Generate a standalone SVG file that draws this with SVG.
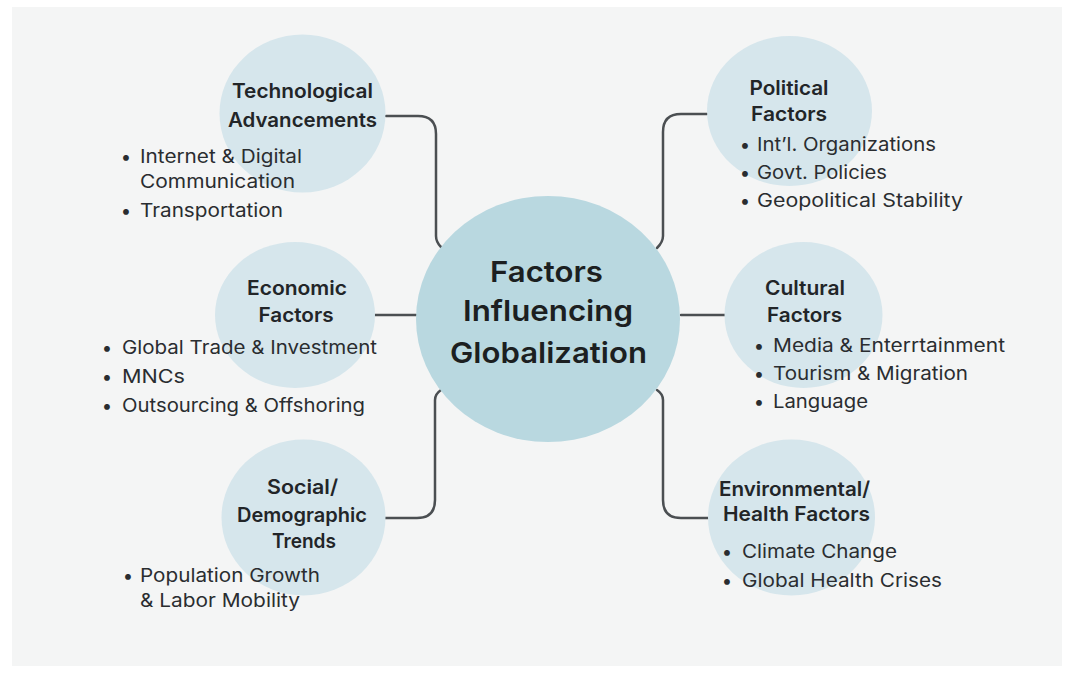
<svg xmlns="http://www.w3.org/2000/svg" width="1073" height="677" viewBox="0 0 1073 677">
<style>
.bg{fill:#f4f5f5}
.node{fill:#d6e6ec}
.hub{fill:#b9d8e0}
.conn{fill:none;stroke:#4b4f52;stroke-width:2.5;stroke-linecap:round}
text{font-family:Inter,"Liberation Sans",sans-serif;fill:#222528}
.t{font-size:20px;font-weight:600;text-anchor:middle}
.c{font-size:29px;font-weight:600;text-anchor:middle;fill:#1c1f21}
.b{font-size:18.5px;font-weight:400;fill:#2a2d30}
.d{font-size:18.5px;text-anchor:middle;fill:#2a2d30}
</style>
<rect x="0" y="0" width="1073" height="677" fill="#ffffff"/>
<rect class="bg" x="12" y="7" width="1050" height="659"/>

<g id="connectors">
<path class="conn" d="M386,116 H418 Q436,116 436,134 V236 Q436,242 441,247"/>
<path class="conn" d="M707,114 H681 Q663,114 663,132 V236 Q663,242 657,248"/>
<path class="conn" d="M375,315 H416"/>
<path class="conn" d="M681,315 H725"/>
<path class="conn" d="M385,518 H417 Q435,518 435,500 V400 Q435,394 441,390"/>
<path class="conn" d="M657,390 Q663,394 663,400 V500 Q663,518 681,518 H708"/>
</g>

<g id="technological">
<ellipse class="node" cx="302.5" cy="113.5" rx="83" ry="79"/>
<text class="t" x="302.5" y="98" textLength="141" lengthAdjust="spacingAndGlyphs">Technological</text>
<text class="t" x="302.5" y="127" textLength="149" lengthAdjust="spacingAndGlyphs">Advancements</text>
<text class="d" x="126" y="163">•</text>
<text class="b" x="140" y="163" textLength="162" lengthAdjust="spacingAndGlyphs">Internet &amp; Digital</text>
<text class="b" x="140" y="188" textLength="155" lengthAdjust="spacingAndGlyphs">Communication</text>
<text class="d" x="126" y="217">•</text>
<text class="b" x="140" y="217" textLength="143" lengthAdjust="spacingAndGlyphs">Transportation</text>
</g>

<g id="political">
<ellipse class="node" cx="789.5" cy="111" rx="82.5" ry="75"/>
<text class="t" x="789" y="95" textLength="79" lengthAdjust="spacingAndGlyphs">Political</text>
<text class="t" x="789" y="121" textLength="76" lengthAdjust="spacingAndGlyphs">Factors</text>
<text class="d" x="745" y="151">•</text>
<text class="b" x="757" y="151" textLength="179" lengthAdjust="spacingAndGlyphs">Int’l. Organizations</text>
<text class="d" x="745" y="179">•</text>
<text class="b" x="757" y="179" textLength="130" lengthAdjust="spacingAndGlyphs">Govt. Policies</text>
<text class="d" x="745" y="207">•</text>
<text class="b" x="757" y="207" textLength="206" lengthAdjust="spacingAndGlyphs">Geopolitical Stability</text>
</g>

<g id="economic">
<ellipse class="node" cx="295" cy="315" rx="80" ry="73"/>
<text class="t" x="297" y="295" textLength="100" lengthAdjust="spacingAndGlyphs">Economic</text>
<text class="t" x="296" y="322" textLength="75" lengthAdjust="spacingAndGlyphs">Factors</text>
<text class="d" x="107" y="354">•</text>
<text class="b" x="122" y="354" textLength="255" lengthAdjust="spacingAndGlyphs">Global Trade &amp; Investment</text>
<text class="d" x="107" y="383">•</text>
<text class="b" x="122" y="383" textLength="63" lengthAdjust="spacingAndGlyphs">MNCs</text>
<text class="d" x="107" y="412">•</text>
<text class="b" x="122" y="412" textLength="243" lengthAdjust="spacingAndGlyphs">Outsourcing &amp; Offshoring</text>
</g>

<g id="cultural">
<ellipse class="node" cx="803.5" cy="315" rx="79" ry="73"/>
<text class="t" x="805" y="295" textLength="80" lengthAdjust="spacingAndGlyphs">Cultural</text>
<text class="t" x="804.5" y="322" textLength="75" lengthAdjust="spacingAndGlyphs">Factors</text>
<text class="d" x="759" y="352">•</text>
<text class="b" x="773" y="352" textLength="232" lengthAdjust="spacingAndGlyphs">Media &amp; Enterrtainment</text>
<text class="d" x="759" y="380">•</text>
<text class="b" x="773" y="380" textLength="195" lengthAdjust="spacingAndGlyphs">Tourism &amp; Migration</text>
<text class="d" x="759" y="408">•</text>
<text class="b" x="773" y="408" textLength="95" lengthAdjust="spacingAndGlyphs">Language</text>
</g>

<g id="social">
<ellipse class="node" cx="303.5" cy="517.5" rx="82" ry="78"/>
<text class="t" x="302.5" y="494" textLength="71" lengthAdjust="spacingAndGlyphs">Social/</text>
<text class="t" x="302" y="522" textLength="130" lengthAdjust="spacingAndGlyphs">Demographic</text>
<text class="t" x="304" y="548" textLength="64" lengthAdjust="spacingAndGlyphs">Trends</text>
<text class="d" x="128" y="582">•</text>
<text class="b" x="140" y="582" textLength="180" lengthAdjust="spacingAndGlyphs">Population Growth</text>
<text class="b" x="140" y="607" textLength="160" lengthAdjust="spacingAndGlyphs">&amp; Labor Mobility</text>
</g>

<g id="environmental">
<ellipse class="node" cx="791.5" cy="517.5" rx="83.5" ry="78"/>
<text class="t" x="794.5" y="496" textLength="151" lengthAdjust="spacingAndGlyphs">Environmental/</text>
<text class="t" x="796.5" y="521" textLength="147" lengthAdjust="spacingAndGlyphs">Health Factors</text>
<text class="d" x="727" y="558">•</text>
<text class="b" x="742" y="558" textLength="155" lengthAdjust="spacingAndGlyphs">Climate Change</text>
<text class="d" x="727" y="587">•</text>
<text class="b" x="742" y="587" textLength="200" lengthAdjust="spacingAndGlyphs">Global Health Crises</text>
</g>

<g id="center">
<ellipse class="hub" cx="548" cy="319" rx="132" ry="123"/>
<text class="c" x="546.5" y="282" textLength="113" lengthAdjust="spacingAndGlyphs">Factors</text>
<text class="c" x="548" y="321" textLength="170" lengthAdjust="spacingAndGlyphs">Influencing</text>
<text class="c" x="548.5" y="363" textLength="197" lengthAdjust="spacingAndGlyphs">Globalization</text>
</g>
</svg>
